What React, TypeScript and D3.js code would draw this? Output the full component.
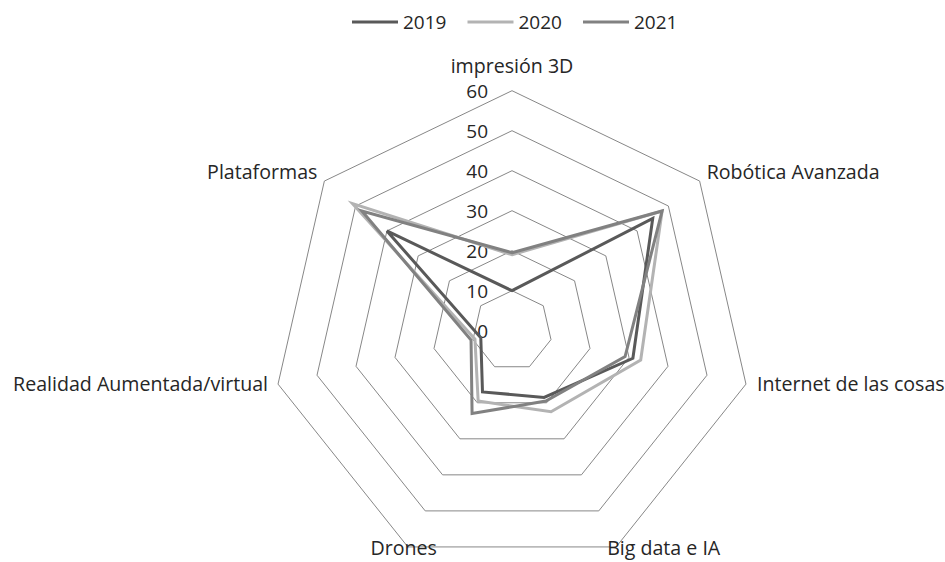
import React from "react";
import * as d3 from "d3";

const categories = [
  "impresión 3D",
  "Robótica Avanzada",
  "Internet de las cosas",
  "Big data e IA",
  "Drones",
  "Realidad Aumentada/virtual",
  "Plataformas",
];
const seriesNames = ["2019", "2020", "2021"];
const values2019 = [10, 45, 31, 18.5, 17, 8, 40];
const values2020 = [19, 48, 33, 22.5, 19.5, 9.5, 51];
const values2021 = [19.5, 48, 29, 19.5, 23, 10.5, 48];
const tickValues = [0, 10, 20, 30, 40, 50, 60];

const seriesValues = [values2019, values2020, values2021];
const colors = ["#595959", "#b3b3b3", "#818181"];

// label layout (anchor, dx, dy relative to outer vertex)
const labelLayout: [string, number, number][] = [
  ["middle", 0, -25],
  ["start", 7, -9],
  ["start", 11, 0],
  ["start", -9, 1],
  ["end", 29, 1],
  ["end", -10, 0],
  ["end", -7, -9],
];

export default function App() {
  const W = 945, H = 562;
  const cx = 512, cy = 330.7, R = 240;
  const font = "'Open Sans', sans-serif";
  const r = d3.scaleLinear().domain([0, 60]).range([0, R]);
  const n = categories.length;
  const angle = d3.scaleLinear().domain([0, n]).range([0, 2 * Math.PI]);
  const pt = (i: number, v: number): [number, number] => {
    const a = angle(i);
    return [cx + r(v) * Math.sin(a), cy - r(v) * Math.cos(a)];
  };
  const line = d3.line<[number, number]>().curve(d3.curveLinearClosed);

  return (
    <svg width={W} height={H} style={{ position: "absolute", left: 0, top: 0, background: "#fff" }}>
      {tickValues.slice(1).map((t) => (
        <path
          key={t}
          d={line(categories.map((_, i) => pt(i, t))) || ""}
          fill="none"
          stroke="#878787"
          strokeWidth={1}
        />
      ))}
      {tickValues.map((t) => (
        <text
          key={"t" + t}
          x={cx - 24}
          y={cy - r(t) + 1}
          dy="0.35em"
          textAnchor="end"
          fontFamily={font}
          fontSize={19}
          fill="#262626"
        >
          {t}
        </text>
      ))}
      {seriesValues.map((vals, s) => (
        <path
          key={"s" + s}
          d={line(vals.map((v, i) => pt(i, v))) || ""}
          fill="none"
          stroke={colors[s]}
          strokeWidth={3}
          strokeLinejoin="miter"
        />
      ))}
      {categories.map((c, i) => {
        const [x, y] = pt(i, 60);
        const [anchor, dx, dy] = labelLayout[i];
        return (
          <text
            key={c}
            x={x + dx}
            y={y + dy}
            dy="0.35em"
            textAnchor={anchor as any}
            fontFamily={font}
            fontSize={19.6}
            fill="#262626"
          >
            {c}
          </text>
        );
      })}
      {seriesNames.map((name, s) => {
        const x0 = 352 + s * 115.5;
        return (
          <g key={name}>
            <line x1={x0} x2={x0 + 46} y1={22} y2={22} stroke={colors[s]} strokeWidth={3} />
            <text x={x0 + 51} y={22} dy="0.35em" fontFamily={font} fontSize={19} fill="#262626">
              {name}
            </text>
          </g>
        );
      })}
    </svg>
  );
}
